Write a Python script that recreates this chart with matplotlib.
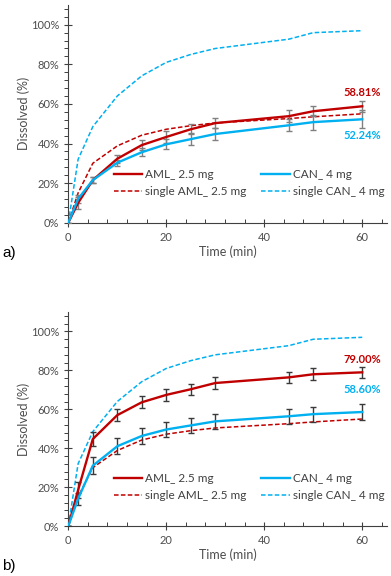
import matplotlib
matplotlib.use("Agg")
import matplotlib.pyplot as plt
from matplotlib.lines import Line2D
from matplotlib.ticker import MultipleLocator, FuncFormatter

plt.rcParams['font.family'] = ['Lato', 'DejaVu Sans']

# time points (min)
time = [0, 2, 5, 10, 15, 20, 25, 30, 45, 50, 60]

# single-drug reference curves (same in both panels)
single_aml = [0, 15, 30, 38.8, 44.2, 47.2, 49, 50.4, 52.6, 53.5, 55]
single_can = [0, 32, 48.5, 64, 74.2, 81, 85, 88, 92.7, 96, 97]

# panel a)
aml_a = [0, 10, 21.5, 32.3, 39.2, 43.3, 47.2, 50.3, 53.8, 56.3, 58.81]
aml_a_sd = [0, 3.2, 1.5, 2, 2.5, 3, 2.5, 2.5, 3, 2.6, 2.9]
can_a = [0, 12, 21.5, 30.3, 35.6, 39.6, 42.2, 44.8, 49.2, 50.8, 52.24]
can_a_sd = [0, 2, 1.5, 1.5, 2, 2.5, 3, 2.8, 3, 3.8, 4.5]

# panel b)
aml_b = [0, 18.5, 44.7, 57, 63.6, 67.4, 70.3, 73.5, 76.4, 78, 79.0]
aml_b_sd = [0, 4.3, 3.4, 3.2, 3, 3, 2.8, 3.2, 2.8, 3, 2.8]
can_b = [0, 14, 31, 41, 46.3, 49.6, 51.7, 53.8, 56.4, 57.5, 58.6]
can_b_sd = [0, 3, 4.4, 4, 4, 4, 3.9, 3.8, 4, 3.8, 3.9]

red = '#C00000'
blue = '#00B0F0'
tick_col = '#4D4D4D'
dash = (0, (3, 1.5))


def panel(ax, aml, aml_sd, can, can_sd, err_col, lab_aml, lab_can, dy_aml, dy_can):
    ax.errorbar(time, aml, yerr=aml_sd, color=red, lw=1.7, ecolor=err_col,
                elinewidth=1, capsize=2.5, capthick=1, zorder=3)
    ax.errorbar(time, can, yerr=can_sd, color=blue, lw=1.7, ecolor=err_col,
                elinewidth=1, capsize=2.5, capthick=1, zorder=3)
    ax.plot(time, single_aml, color=red, lw=1.1, ls=dash, zorder=2)
    ax.plot(time, single_can, color=blue, lw=1.1, ls=dash, zorder=2)

    ax.text(time[-1], aml[-1] + dy_aml, lab_aml, color=red, fontsize=8, fontweight='bold',
            ha='center', va='center')
    ax.text(time[-1], can[-1] + dy_can, lab_can, color=blue, fontsize=8, fontweight='bold',
            ha='center', va='center')

    ax.set_xlim(0, 65)
    ax.set_ylim(0, 110)
    ax.xaxis.set_major_locator(MultipleLocator(20))
    ax.xaxis.set_minor_locator(MultipleLocator(4))
    ax.yaxis.set_major_locator(MultipleLocator(20))
    ax.yaxis.set_minor_locator(MultipleLocator(4))
    ax.yaxis.set_major_formatter(FuncFormatter(lambda v, p: '%d%%' % v if v <= 100 else ''))
    ax.tick_params(which='major', direction='inout', length=6, width=0.8, color='#404040',
                   labelsize=8, labelcolor=tick_col)
    ax.tick_params(axis='y', which='minor', direction='out', length=3, width=0.7, color='#404040')
    ax.tick_params(axis='x', which='minor', direction='in', length=3, width=0.7, color='#404040')
    for s in ['top', 'right']:
        ax.spines[s].set_visible(False)
    for s in ['left', 'bottom']:
        ax.spines[s].set_color('#404040')
        ax.spines[s].set_linewidth(0.8)
    ax.set_xlabel('Time (min)', fontsize=9, color=tick_col, labelpad=2)
    ax.set_ylabel('Dissolved (%)', fontsize=9, color=tick_col, labelpad=1)

    handles = [Line2D([], [], color=red, lw=1.7),
               Line2D([], [], color=red, lw=1.1, ls=dash),
               Line2D([], [], color=blue, lw=1.7),
               Line2D([], [], color=blue, lw=1.1, ls=dash)]
    labels = ['AML_ 2.5 mg', 'single AML_ 2.5 mg', 'CAN_ 4 mg', 'single CAN_ 4 mg']
    ax.legend(handles, labels, ncol=2, loc='center', bbox_to_anchor=(0.5675, 0.182), frameon=False,
              fontsize=8.5, handlelength=2.4, handletextpad=0.25, columnspacing=1.25,
              labelspacing=0.55, borderpad=0, borderaxespad=0, labelcolor='#404040')


fig = plt.figure(figsize=(3.91, 5.76), dpi=100)
ax1 = fig.add_axes([0.1747, 0.6134, 0.8143, 0.378])
ax2 = fig.add_axes([0.1747, 0.0868, 0.8143, 0.3715])

panel(ax1, aml_a, aml_a_sd, can_a, can_a_sd, '#808080', '58.81%', '52.24%', 7, -8)
panel(ax2, aml_b, aml_b_sd, can_b, can_b_sd, '#3A3A3A', '79.00%', '58.60%', 6.6, 11.6)

fig.text(0.005, 0.561, 'a)', fontsize=11, family='Liberation Sans', va='center')
fig.text(0.005, 0.017, 'b)', fontsize=11, family='Liberation Sans', va='center')

fig.savefig('out.png', dpi=100)
